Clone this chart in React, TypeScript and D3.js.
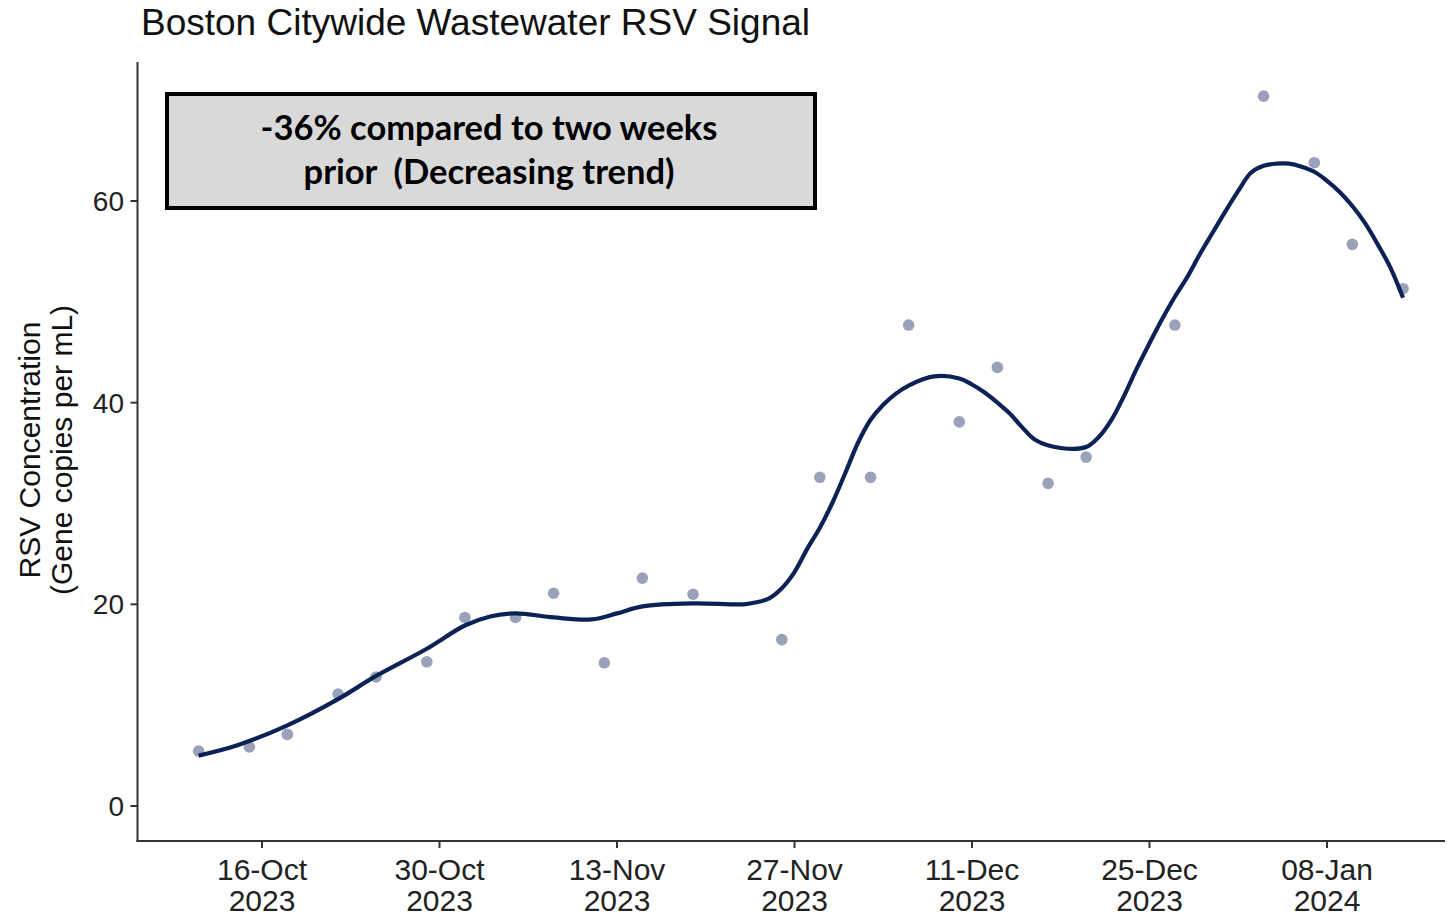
import React, { useEffect, useRef } from "react";
import * as d3 from "d3";

// Sample dates (measured concentrations)
const sampleDates = [
  "2023-10-11", "2023-10-15", "2023-10-18", "2023-10-22", "2023-10-25",
  "2023-10-29", "2023-11-01", "2023-11-05", "2023-11-08", "2023-11-12",
  "2023-11-15", "2023-11-19", "2023-11-26", "2023-11-29", "2023-12-03",
  "2023-12-06", "2023-12-10", "2023-12-13", "2023-12-17", "2023-12-20",
  "2023-12-27", "2024-01-03", "2024-01-07", "2024-01-10", "2024-01-14",
];
const sampleValues = [
  5.45, 5.85, 7.1, 11.1, 12.8,
  14.3, 18.7, 18.7, 21.1, 14.2,
  22.6, 21.0, 16.5, 32.6, 32.6,
  47.7, 38.1, 43.5, 32.0, 34.6,
  47.7, 70.4, 63.8, 55.7, 51.3,
];

// Smoothed trend line
const trendDates = [
  "2023-10-11", "2023-10-14", "2023-10-18", "2023-10-22", "2023-10-25",
  "2023-10-29", "2023-11-01", "2023-11-03", "2023-11-05", "2023-11-08",
  "2023-11-11", "2023-11-13", "2023-11-15", "2023-11-19", "2023-11-23",
  "2023-11-24", "2023-11-25", "2023-11-26", "2023-11-27", "2023-11-28",
  "2023-11-29", "2023-11-30", "2023-12-01", "2023-12-02", "2023-12-03",
  "2023-12-04", "2023-12-05", "2023-12-06", "2023-12-08", "2023-12-10",
  "2023-12-11", "2023-12-12", "2023-12-13", "2023-12-14", "2023-12-15",
  "2023-12-16", "2023-12-18", "2023-12-20", "2023-12-21", "2023-12-22",
  "2023-12-23", "2023-12-24", "2023-12-25", "2023-12-26", "2023-12-27",
  "2023-12-28", "2023-12-29", "2023-12-30", "2023-12-31", "2024-01-01",
  "2024-01-02", "2024-01-03", "2024-01-04", "2024-01-05", "2024-01-06",
  "2024-01-07", "2024-01-08", "2024-01-09", "2024-01-10", "2024-01-11",
  "2024-01-12", "2024-01-13", "2024-01-14",
];
const trendValues = [
  5.0, 6.0, 8.0, 10.6, 12.9,
  15.6, 17.9, 18.8, 19.1, 18.7,
  18.5, 19.1, 19.8, 20.1, 20.0,
  20.2, 20.6, 21.6, 23.2, 25.5,
  27.6, 30.1, 33.0, 36.0, 38.3,
  39.8, 40.9, 41.7, 42.6, 42.4,
  41.8, 41.0, 40.0, 38.9, 37.5,
  36.3, 35.5, 35.6, 36.6, 38.3,
  40.7, 43.4, 45.9, 48.3, 50.5,
  52.5, 54.8, 56.9, 59.0, 61.0,
  62.8, 63.5, 63.7, 63.7, 63.4,
  62.9, 62.0, 60.9, 59.5, 57.8,
  55.7, 53.4, 50.4,
];

const xTickDates = ["2023-10-16", "2023-10-30", "2023-11-13", "2023-11-27", "2023-12-11", "2023-12-25", "2024-01-08"];
const yTicks = [0, 20, 40, 60];

const titleText = "Boston Citywide Wastewater RSV Signal";
const yTitleLines = ["RSV Concentration", "(Gene copies per mL)"];
const boxLines = ["-36% compared to two weeks", "prior  (Decreasing trend)"];

const parse = (s: string) => new Date(s + "T00:00:00Z");

const App = () => {
  const svgRef = useRef<SVGSVGElement>(null);

  useEffect(() => {
    const width = 1447;
    const height = 916;
    const axisX = 137.5;
    const axisY = 841;
    const navy = "#0b2256";

    const x = d3.scaleUtc()
      .domain([parse("2023-10-16"), parse("2024-01-08")])
      .range([262, 1327]);

    const y = d3.scaleLinear()
      .domain([0, 60])
      .range([806, 201]);

    const svg = d3.select(svgRef.current)
      .attr("width", width)
      .attr("height", height)
      .attr("viewBox", `0 0 ${width} ${height}`);

    svg.selectAll("*").remove();

    svg.append("rect").attr("width", width).attr("height", height).attr("fill", "white");

    // title
    svg.append("text")
      .attr("x", 141)
      .attr("y", 35)
      .attr("font-family", "Liberation Sans, Arial, sans-serif")
      .attr("font-size", 37)
      .attr("fill", "#111")
      .text(titleText);

    // axes lines
    svg.append("line")
      .attr("x1", axisX).attr("x2", axisX)
      .attr("y1", 62).attr("y2", axisY + 1)
      .attr("stroke", "#333").attr("stroke-width", 2);
    svg.append("line")
      .attr("x1", axisX - 1).attr("x2", 1445)
      .attr("y1", axisY).attr("y2", axisY)
      .attr("stroke", "#333").attr("stroke-width", 2);

    // y ticks
    const yg = svg.append("g");
    yg.selectAll("line")
      .data(yTicks)
      .join("line")
      .attr("x1", axisX - 7).attr("x2", axisX)
      .attr("y1", (d) => y(d)).attr("y2", (d) => y(d))
      .attr("stroke", "#333").attr("stroke-width", 2);
    yg.selectAll("text")
      .data(yTicks)
      .join("text")
      .attr("x", 124)
      .attr("y", (d) => y(d) + 10)
      .attr("text-anchor", "end")
      .attr("font-family", "Liberation Sans, Arial, sans-serif")
      .attr("font-size", 28)
      .attr("fill", "#222")
      .text((d) => d);

    // x ticks
    const fmtDay = d3.utcFormat("%d-%b");
    const fmtYear = d3.utcFormat("%Y");
    const xg = svg.append("g");
    const xt = xTickDates.map(parse);
    xg.selectAll("line")
      .data(xt)
      .join("line")
      .attr("x1", (d) => x(d)).attr("x2", (d) => x(d))
      .attr("y1", axisY).attr("y2", axisY + 7)
      .attr("stroke", "#333").attr("stroke-width", 2);
    const lbl = xg.selectAll("text")
      .data(xt)
      .join("text")
      .attr("text-anchor", "middle")
      .attr("font-family", "Liberation Sans, Arial, sans-serif")
      .attr("font-size", 30)
      .attr("fill", "#222");
    lbl.append("tspan").attr("x", (d) => x(d)).attr("y", 880).text((d) => fmtDay(d));
    lbl.append("tspan").attr("x", (d) => x(d)).attr("y", 911).text((d) => fmtYear(d));

    // y axis title
    const yt = svg.append("text")
      .attr("transform", "translate(0,450) rotate(-90)")
      .attr("text-anchor", "middle")
      .attr("font-family", "Liberation Sans, Arial, sans-serif")
      .attr("font-size", 30)
      .attr("fill", "#111");
    yTitleLines.forEach((t, i) => {
      yt.append("tspan").attr("x", 0).attr("y", 40 + i * 32).text(t);
    });

    // points
    svg.append("g")
      .selectAll("circle")
      .data(sampleDates.map((d, i) => ({ date: parse(d), value: sampleValues[i] })))
      .join("circle")
      .attr("cx", (d) => x(d.date))
      .attr("cy", (d) => y(d.value))
      .attr("r", 5.8)
      .attr("fill", navy)
      .attr("fill-opacity", 0.42);

    // trend line
    const trend = trendDates.map((d, i) => ({ date: parse(d), value: trendValues[i] }));
    const line = d3.line<{ date: Date; value: number }>()
      .x((d) => x(d.date))
      .y((d) => y(d.value))
      .curve(d3.curveCatmullRom.alpha(0.5));
    svg.append("path")
      .datum(trend)
      .attr("d", line)
      .attr("fill", "none")
      .attr("stroke", navy)
      .attr("stroke-width", 4.2);

    // annotation box
    svg.append("rect")
      .attr("x", 167).attr("y", 94)
      .attr("width", 648).attr("height", 114)
      .attr("fill", "#d9d9d9")
      .attr("stroke", "#000")
      .attr("stroke-width", 4);
    const bt = svg.append("text")
      .attr("text-anchor", "middle")
      .attr("font-family", "Lato, 'Open Sans', sans-serif")
      .attr("font-weight", 700)
      .attr("font-size", 34.5)
      .attr("fill", "#000");
    boxLines.forEach((t, i) => {
      bt.append("tspan")
        .attr("x", 489)
        .attr("y", 140 + i * 44)
        .attr("xml:space", "preserve")
        .text(t);
    });
  }, []);

  return (
    <div style={{ position: "absolute", left: 0, top: 0 }}>
      <svg ref={svgRef} style={{ display: "block" }}></svg>
    </div>
  );
};

export default App;
